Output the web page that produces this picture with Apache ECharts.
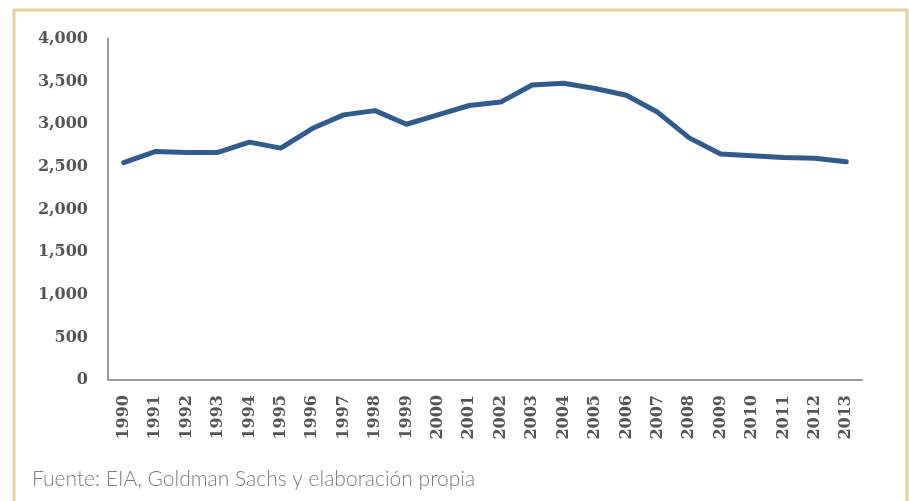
<!DOCTYPE html>
<html>
<head>
<meta charset="utf-8">
<script src="https://cdn.jsdelivr.net/npm/echarts@6/dist/echarts.min.js"></script>
<style>
  html, body { margin: 0; padding: 0; background: #fff; }
  #chart { width: 909px; height: 501px; }
</style>
</head>
<body>
<div id="chart"></div>
<script>
// years on the x axis
const years = ['1990', '1991', '1992', '1993', '1994', '1995', '1996', '1997', '1998', '1999',
    '2000', '2001', '2002', '2003', '2004', '2005', '2006', '2007', '2008', '2009',
    '2010', '2011', '2012', '2013'];
// values
const values = [2550, 2680, 2670, 2670, 2790, 2720, 2950, 3110, 3160, 3000,
    3110, 3220, 3260, 3460, 3480, 3420, 3340, 3140, 2840, 2650,
    2630, 2610, 2600, 2560];
const sourceNote = 'Fuente: EIA, Goldman Sachs y elaboración propia';

let chartDom = document.getElementById('chart');
let myChart = echarts.init(chartDom);
let option = {
    animation: false,
    backgroundColor: '#fff',
    title: {
        text: sourceNote,
        left: 27,
        top: 464,
        textStyle: {
            fontFamily: 'Lato',
            fontWeight: 300,
            fontSize: 21,
            color: '#7d7d7d'
        }
    },
    graphic: [{
        type: 'rect',
        shape: { x: 14, y: 10, width: 893, height: 520 },
        style: { fill: 'none', stroke: '#e2d39d', lineWidth: 3 },
        silent: true
    }],
    grid: {
        left: 108,
        right: 47,
        top: 39,
        bottom: 121
    },
    xAxis: {
        type: 'category',
        data: years,
        boundaryGap: true,
        axisLine: { lineStyle: { color: '#9a9a9a', width: 2 } },
        axisTick: { show: false },
        axisLabel: {
            rotate: 90,
            margin: 15,
            interval: 0,
            fontFamily: 'DejaVu Serif',
            fontWeight: 'bold',
            fontSize: 16,
            color: '#555'
        }
    },
    yAxis: {
        type: 'value',
        min: 0,
        max: 4000,
        interval: 500,
        axisLine: { show: true, lineStyle: { color: '#9a9a9a', width: 2 } },
        axisTick: { show: false },
        splitLine: { show: false },
        axisLabel: {
            margin: 20,
            fontFamily: 'DejaVu Serif',
            fontWeight: 'bold',
            fontSize: 16,
            color: '#555',
            formatter: v => v.toLocaleString('en-US')
        }
    },
    series: [{
        type: 'line',
        data: values,
        showSymbol: false,
        lineStyle: { color: '#2f5b8f', width: 5, join: 'round', cap: 'round' }
    }]
};
option && myChart.setOption(option);
</script>
</body>
</html>
